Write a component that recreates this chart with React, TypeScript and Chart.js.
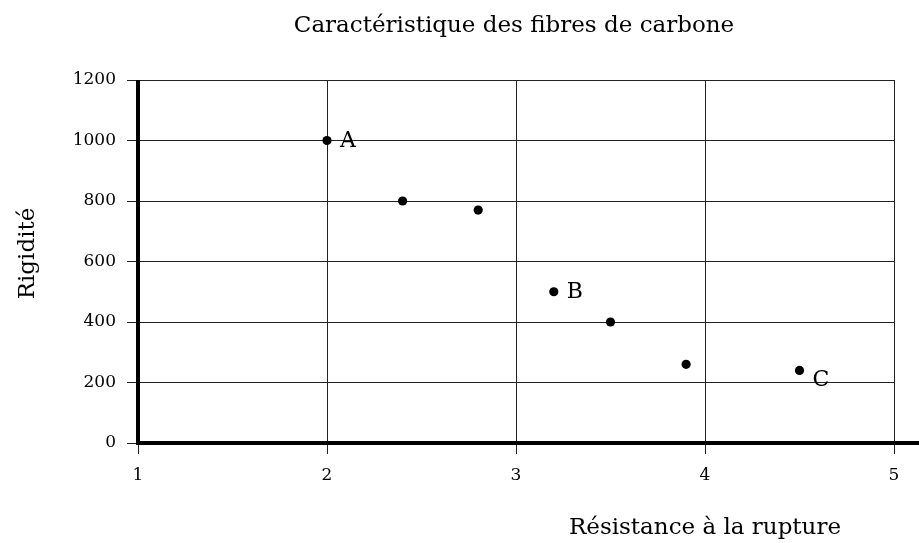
import React, { useEffect, useRef } from "react";
import { Chart, registerables } from "chart.js";

Chart.register(...registerables);

const resistance = [2, 2.4, 2.8, 3.2, 3.5, 3.9, 4.5];
const rigidite = [1000, 800, 770, 500, 400, 260, 240];
const pointLabels = ["A", "", "", "B", "", "", "C"];
const xTicks = [1, 2, 3, 4, 5];
const yTicks = [0, 200, 400, 600, 800, 1000, 1200];

const TITLE = "Caractéristique des fibres de carbone";
const X_TITLE = "Résistance à la rupture";
const Y_TITLE = "Rigidité";

const FONT = "'DejaVu Serif', 'Liberation Serif', serif";

const decorPlugin = {
  id: "decor",
  afterDraw(chart: any) {
    const ctx = chart.ctx;
    const area = chart.chartArea;
    ctx.save();
    // thick axes
    ctx.strokeStyle = "#000";
    ctx.lineWidth = 4;
    ctx.beginPath();
    ctx.moveTo(area.left, area.top);
    ctx.lineTo(area.left, area.bottom + 2);
    ctx.stroke();
    ctx.beginPath();
    ctx.moveTo(area.left - 2, area.bottom);
    ctx.lineTo(chart.width, area.bottom);
    ctx.stroke();

    // point labels
    const meta = chart.getDatasetMeta(0);
    ctx.fillStyle = "#000";
    ctx.font = `22px ${FONT}`;
    ctx.textAlign = "left";
    ctx.textBaseline = "middle";
    meta.data.forEach((pt: any, i: number) => {
      const label = pointLabels[i];
      if (!label) return;
      const dy = label === "C" ? 10 : 1;
      ctx.fillText(label, pt.x + 13, pt.y + dy);
    });

    // titles
    ctx.font = `23px ${FONT}`;
    ctx.textAlign = "center";
    ctx.textBaseline = "alphabetic";
    ctx.fillText(TITLE, (area.left + area.right) / 2 - 2, 32);
    ctx.fillText(X_TITLE, 705, 534);

    ctx.translate(34, (area.top + area.bottom) / 2 - 8);
    ctx.rotate(-Math.PI / 2);
    ctx.fillText(Y_TITLE, 0, 0);
    ctx.restore();
  },
};

export default function App() {
  const ref = useRef<HTMLCanvasElement>(null);

  useEffect(() => {
    if (!ref.current) return;
    const chart = new Chart(ref.current, {
      type: "scatter",
      data: {
        datasets: [
          {
            label: "Fibres",
            data: resistance.map((x, i) => ({ x, y: rigidite[i] })),
            backgroundColor: "#000",
            borderColor: "#000",
            borderWidth: 0,
            pointRadius: 4.6,
          },
        ],
      },
      options: {
        responsive: false,
        animation: false,
        layout: { padding: { top: 80, right: 25, left: 0, bottom: 0 } },
        plugins: {
          legend: { display: false },
          title: { display: false },
          tooltip: { enabled: false },
        },
        scales: {
          x: {
            type: "linear",
            min: xTicks[0],
            max: xTicks[xTicks.length - 1],
            afterBuildTicks: (s: any) => {
              s.ticks = xTicks.map((v) => ({ value: v }));
            },
            afterFit: (s: any) => {
              s.height = 100;
            },
            ticks: {
              color: "#000",
              font: { family: FONT, size: 17 },
              padding: 11,
              maxRotation: 0,
              callback: (v: any) => String(v),
            },
            grid: { color: "#222", lineWidth: 1, tickLength: 11 },
            border: { display: false },
          },
          y: {
            type: "linear",
            min: yTicks[0],
            max: yTicks[yTicks.length - 1],
            afterBuildTicks: (s: any) => {
              s.ticks = yTicks.map((v) => ({ value: v }));
            },
            afterFit: (s: any) => {
              s.width = 138;
            },
            ticks: {
              color: "#000",
              font: { family: FONT, size: 17 },
              padding: 11,
              callback: (v: any) => String(v),
            },
            grid: { color: "#222", lineWidth: 1, tickLength: 11 },
            border: { display: false },
          },
        },
      },
      plugins: [decorPlugin],
    });
    return () => chart.destroy();
  }, []);

  return (
    <div style={{ position: "absolute", left: 0, top: 0, width: 919, height: 543 }}>
      <canvas ref={ref} width={919} height={543} style={{ background: "#fff" }} />
    </div>
  );
}
